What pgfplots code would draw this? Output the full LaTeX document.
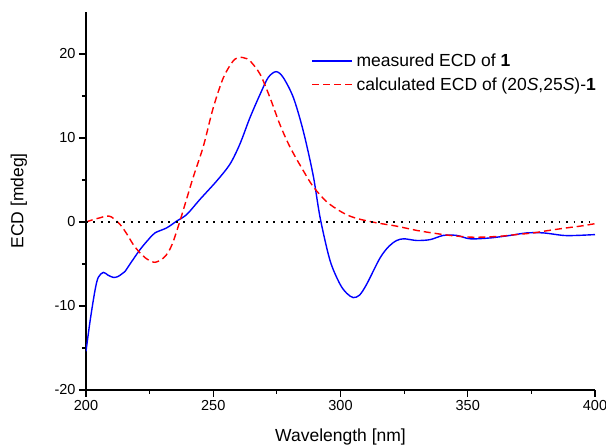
\documentclass[border=0pt]{standalone}
\usepackage{fontspec}
\setmainfont{Liberation Sans}
\usepackage{pgfplots}
\pgfplotsset{compat=1.18}

\begin{document}
\begin{tikzpicture}
\path[use as bounding box] (-86pt,-56pt) rectangle (520pt,390pt);
\begin{axis}[
    scale only axis,
    width=509pt, height=378pt,
    xmin=200, xmax=400,
    ymin=-20, ymax=25,
    xtick={200,250,...,400},
    ytick={-20,-10,0,10,20},
    minor x tick num=1,
    minor y tick num=1,
    axis x line*=bottom,
    axis y line*=left,
    axis line style={line width=1.2pt},
    tick style={line width=1.1pt, black},
    tick align=outside,
    major tick length=7pt,
    minor tick length=4pt,
    tick label style={font=\fontsize{14.5}{16}\selectfont},
    /pgf/number format/assume math mode=true,
    xlabel={Wavelength [nm]},
    ylabel={ECD [mdeg]},
    every axis x label/.style={at={(axis description cs:0.5,-0.124)},anchor=center,
        font=\fontsize{17.5}{20}\selectfont},
    every axis y label/.style={at={(axis description cs:-0.132,0.5)},rotate=90,anchor=center,
        font=\fontsize{17.5}{20}\selectfont},
    legend style={at={(0.443,0.899)}, anchor=north west, draw=none, fill=none,
        font=\fontsize{17.5}{20}\selectfont, row sep=2.5pt, inner sep=0pt,
        nodes={inner sep=3.5pt}},
    legend cell align=left,
    legend image code/.code={\draw[#1] (0pt,0pt) -- (40pt,0pt);},
]
\addplot[blue, line width=1.4pt, smooth] coordinates {
(200,-15.4)(201.6,-11.8)(203.5,-8.2)(204.8,-6.6)(206.8,-6.0)(208.5,-6.3)
(210.7,-6.6)(212.5,-6.5)(214,-6.2)(215.3,-5.9)(217.3,-5.0)(221.2,-3.3)
(224.5,-2.1)(227.1,-1.3)(231.7,-0.7)(235.6,0.1)(239.6,0.9)(244.8,2.7)
(251.4,4.9)(256.6,6.9)(260.5,9.3)(264.4,12.4)(268.4,15.2)(271.6,17.2)
(274.7,17.9)(277.5,17.2)(281.5,14.8)(285.4,10.8)(289.3,5.5)(292,0.5)
(295.9,-4.6)(299.8,-7.4)(302.5,-8.5)(305,-9.0)(307.5,-8.7)(310.3,-7.4)
(315.5,-4.3)(319,-2.9)(322.1,-2.2)(325,-2.0)(329.9,-2.2)(335.2,-2.1)
(340.4,-1.6)(345.7,-1.6)(350.9,-2.0)(358.7,-1.9)(366.6,-1.6)(373.2,-1.3)
(379.7,-1.3)(387.6,-1.6)(392.8,-1.6)(400,-1.5)
};
\addlegendentry{measured ECD of \textbf{1}}
\addplot[red, line width=1.4pt, dash pattern=on 7pt off 4pt, smooth] coordinates {
(200,0)(203,0.3)(205.5,0.5)(208,0.7)(210,0.6)(213.4,-0.3)(216,-1.4)
(218.6,-2.7)(221,-3.6)(223.9,-4.4)(227.1,-4.8)(230.4,-4.3)(232.5,-3.5)
(234.3,-2.3)(236.9,0.1)(239.6,2.8)(242.2,5.4)(246.1,9.0)(250,13.6)
(254,17.2)(257.9,19.2)(260.5,19.6)(262.5,19.5)(264.4,19.2)(268.4,17.6)
(272.3,14.8)(276.2,11.6)(280.2,8.9)(285.4,6.1)(289.3,4.2)(294.6,2.4)
(299.8,1.3)(303.7,0.7)(308,0.3)(314.2,-0.1)(322.1,-0.5)(329.9,-1.0)
(336,-1.3)(343,-1.6)(350.9,-1.8)(356,-1.8)(362.7,-1.7)(369,-1.5)
(375.8,-1.3)(382,-1.0)(388.9,-0.7)(394,-0.5)(398,-0.3)(400,-0.2)
};
\addlegendentry{calculated ECD of (20\textit{S},25\textit{S})-\textbf{1}}
\addplot[black, line width=1.6pt, dash pattern=on 1.6pt off 5.9pt, forget plot] coordinates {(200,0)(400,0)};
\end{axis}
\end{tikzpicture}
\end{document}
